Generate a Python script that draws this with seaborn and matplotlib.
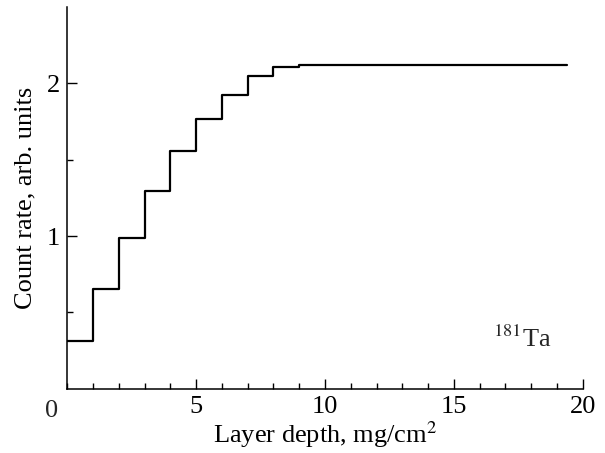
import matplotlib
matplotlib.use("Agg")
import matplotlib.pyplot as plt
import seaborn as sns
import pandas as pd
from matplotlib.ticker import MultipleLocator, FixedLocator

# Data (step edges and count rate levels)
depth = [0, 1, 2, 3, 4, 5, 6, 7, 8, 9, 19.4]
count_rate = [0.31, 0.655, 0.985, 1.295, 1.555, 1.765, 1.925, 2.045, 2.105, 2.12, 2.12]
x_tick_labels = ["5", "10", "15", "20"]
y_tick_labels = ["1", "2"]

sns.set_theme(style="ticks")
plt.rcParams['font.family'] = ['Liberation Serif', 'DejaVu Serif']
plt.rcParams['mathtext.fontset'] = 'stix'

FS = 19
fig = plt.figure(figsize=(6.05, 4.53), dpi=100)
ax = fig.add_axes([0.1112, 0.142, 0.8520, 0.8425])

df = pd.DataFrame({"depth": depth, "rate": count_rate})
sns.lineplot(data=df, x="depth", y="rate", ax=ax, estimator=None, sort=False,
             drawstyle="steps-post", color="black", linewidth=1.6)

ax.set_xlim(0, 20)
ax.set_ylim(0, 2.5)
sns.despine(ax=ax)
for s in ["left", "bottom"]:
    ax.spines[s].set_linewidth(1.1)
    ax.spines[s].set_color("black")

ax.xaxis.set_major_locator(FixedLocator([5, 10, 15, 20]))
ax.set_xticklabels(x_tick_labels)
ax.xaxis.set_minor_locator(MultipleLocator(1))
ax.yaxis.set_major_locator(FixedLocator([1, 2]))
ax.set_yticklabels(y_tick_labels)
ax.yaxis.set_minor_locator(FixedLocator([0.5, 1.5]))
ax.tick_params(which="major", direction="in", length=7, width=1.0, color="black",
               labelsize=FS, labelcolor="black", pad=5)
ax.tick_params(which="minor", direction="in", length=4.5, width=1.0, color="black")

ax.text(-0.03, -0.03, "0", transform=ax.transAxes, ha="center", va="top", fontsize=FS)

ax.set_xlabel("Layer depth, mg/cm$^2$", fontsize=FS, labelpad=1, color="black")
ax.set_ylabel("Count rate, arb. units", fontsize=FS, labelpad=8, color="black")

ax.text(18.8, 0.27, "$^{181}$Ta", fontsize=FS, ha="right", va="baseline")

fig.savefig("out.png", dpi=100)
